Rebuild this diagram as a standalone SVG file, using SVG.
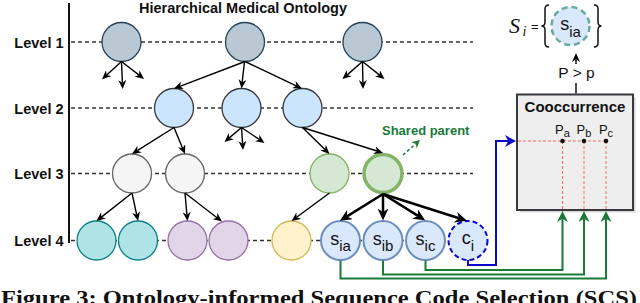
<svg xmlns="http://www.w3.org/2000/svg" width="640" height="303" viewBox="0 0 640 303">
<defs>
<style>
.lvl{font-family:"Liberation Sans",Arial,sans-serif;font-weight:bold;font-size:14.5px;fill:#111;text-anchor:end}
.grid{stroke:#333;stroke-width:1.3;stroke-dasharray:4 3;fill:none}
.n1{fill:#bac8d3;stroke:#23445d;stroke-width:1.3}
.n2{fill:#cce5ff;stroke:#36393d;stroke-width:1.3}
.n3{fill:#f5f5f5;stroke:#666;stroke-width:1.3}
.ng{fill:#d5e8d4;stroke:#82b366;stroke-width:1.3}
.nt{fill:#b0e3e6;stroke:#0e8088;stroke-width:1.3}
.np{fill:#e1d5e7;stroke:#9673a6;stroke-width:1.3}
.ny{fill:#fff2cc;stroke:#d6b656;stroke-width:1.3}
.ns{fill:#dae8fc;stroke:#6c8ebf;stroke-width:2}
.lab{font-family:"Liberation Sans",Arial,sans-serif;font-size:18px;fill:#111;text-anchor:middle}
.sub{font-size:15px}
.e{stroke:#000;stroke-width:1.4;fill:none;marker-end:url(#ah)}
.eb{stroke:#000;stroke-width:2.5;fill:none;marker-end:url(#ahB)}
.gr{stroke:#1a7a3a;stroke-width:2;fill:none;marker-end:url(#ahG)}
.sans{font-family:"Liberation Sans",Arial,sans-serif}
</style>
<marker id="ah" viewBox="0 0 10 10" refX="3" refY="5" markerWidth="9" markerHeight="8" markerUnits="userSpaceOnUse" orient="auto" preserveAspectRatio="none"><path d="M0,0 L10,5 L0,10 L3,5 z" fill="#000"/></marker>
<marker id="ahB" viewBox="0 0 10 10" refX="3" refY="5" markerWidth="12" markerHeight="11" markerUnits="userSpaceOnUse" orient="auto" preserveAspectRatio="none"><path d="M0,0 L10,5 L0,10 L3,5 z" fill="#000"/></marker>
<marker id="ahG" viewBox="0 0 10 10" refX="3" refY="5" markerWidth="11" markerHeight="11" markerUnits="userSpaceOnUse" orient="auto" preserveAspectRatio="none"><path d="M0,0 L10,5 L0,10 L3,5 z" fill="#1a7a3a"/></marker>
<marker id="ahGs" viewBox="0 0 10 10" refX="3" refY="5" markerWidth="8" markerHeight="8" markerUnits="userSpaceOnUse" orient="auto" preserveAspectRatio="none"><path d="M0,0 L10,5 L0,10 L3,5 z" fill="#1a7a3a"/></marker>
<marker id="ahBl" viewBox="0 0 10 10" refX="3" refY="5" markerWidth="11" markerHeight="12" markerUnits="userSpaceOnUse" orient="auto" preserveAspectRatio="none"><path d="M0,0 L10,5 L0,10 L3,5 z" fill="#0a0acc"/></marker>
</defs>
<rect width="640" height="303" fill="#fff"/>

<g id="axis">
<line x1="69" y1="3" x2="69" y2="243" stroke="#111" stroke-width="2"/>
<path class="grid" d="M71,42 H473 M71,108 H473 M71,173.5 H473 M71,240.5 H468"/>
<text class="lvl" x="63.5" y="47.5">Level 1</text>
<text class="lvl" x="63.5" y="113.5">Level 2</text>
<text class="lvl" x="63.5" y="179">Level 3</text>
<text class="lvl" x="63.5" y="246">Level 4</text>
<text class="sans" x="243" y="12.5" font-size="14.5" font-weight="bold" text-anchor="middle" fill="#111">Hierarchical Medical Ontology</text>
</g>

<g id="level1">
<g id="L1a"><circle class="n1" cx="121.5" cy="42" r="19.5"/></g>
<g id="L1b"><circle class="n1" cx="245" cy="42" r="19.5"/></g>
<g id="L1c"><circle class="n1" cx="362.5" cy="42" r="19.5"/></g>
</g>
<g id="level2">
<g id="L2a"><circle class="n2" cx="174" cy="108" r="19.5"/></g>
<g id="L2b"><circle class="n2" cx="241.5" cy="108" r="19.5"/></g>
<g id="L2c"><circle class="n2" cx="302.5" cy="108" r="19.5"/></g>
</g>
<g id="level3">
<g id="L3a"><circle class="n3" cx="132" cy="173.5" r="19.5"/></g>
<g id="L3b"><circle class="n3" cx="185" cy="173.5" r="19.5"/></g>
<g id="L3c"><circle class="ng" cx="329.5" cy="173.5" r="19.5"/></g>
<g id="L3d-shared-parent"><circle cx="383" cy="173.5" r="19" fill="#d5e8d4" stroke="#82b366" stroke-width="3.5"/></g>
</g>
<g id="level4">
<g id="L4a"><circle class="nt" cx="96.5" cy="240.5" r="19.5"/></g>
<g id="L4b"><circle class="nt" cx="138" cy="240.5" r="19.5"/></g>
<g id="L4c"><circle class="np" cx="187.5" cy="240.5" r="19.5"/></g>
<g id="L4d"><circle class="np" cx="228.5" cy="240.5" r="19.5"/></g>
<g id="L4e"><circle class="ny" cx="291.5" cy="240.5" r="19.5"/></g>
<g id="s_ia"><circle class="ns" cx="340.5" cy="240.5" r="19.5"/><text class="lab" x="340.5" y="244.5">s<tspan class="sub" dy="6.5">ia</tspan></text></g>
<g id="s_ib"><circle class="ns" cx="383" cy="240.5" r="19.5"/><text class="lab" x="383" y="244.5">s<tspan class="sub" dy="6.5">ib</tspan></text></g>
<g id="s_ic"><circle class="ns" cx="425.5" cy="240.5" r="19.5"/><text class="lab" x="425.5" y="244.5">s<tspan class="sub" dy="6.5">ic</tspan></text></g>
<g id="c_i"><circle cx="468" cy="240.5" r="19.5" fill="#dae8fc" stroke="#0a0acc" stroke-width="2" stroke-dasharray="5 3"/><text class="lab" x="468" y="244">c<tspan class="sub" dy="6.5">i</tspan></text></g>
</g>

<g id="shared-parent-label">
<text class="sans" x="382" y="135" font-size="13" font-weight="bold" fill="#1a7a3a">Shared parent</text>
</g>

<g id="cooccurrence">
<rect x="519.5" y="97" width="116" height="115.5" fill="#aaa" opacity="0.45"/>
<rect x="517" y="94.5" width="116" height="115.5" fill="#eeeeee" stroke="#36393d" stroke-width="2"/>
<text class="sans" x="575" y="112" font-size="15" font-weight="bold" text-anchor="middle" fill="#111">Cooccurrence</text>
<path d="M518,141 H606 M562.5,141 V209 M584,141 V209 M606,141 V209" stroke="#ff6666" stroke-width="1" stroke-dasharray="3 2" fill="none"/>
<circle cx="562.5" cy="141" r="2.3" fill="#111"/>
<circle cx="584" cy="141" r="2.3" fill="#111"/>
<circle cx="606" cy="141" r="2.3" fill="#111"/>
<text class="sans" x="562.5" y="134" font-size="13" text-anchor="middle" fill="#111">P<tspan font-size="11" dy="3">a</tspan></text>
<text class="sans" x="584" y="134" font-size="13" text-anchor="middle" fill="#111">P<tspan font-size="11" dy="3">b</tspan></text>
<text class="sans" x="606" y="134" font-size="13" text-anchor="middle" fill="#111">P<tspan font-size="11" dy="3">c</tspan></text>
</g>

<g id="selected-set">
<text x="509" y="33" font-family="Liberation Serif,serif" font-style="italic" font-size="22" fill="#111">S</text>
<text x="522.5" y="35.5" font-family="Liberation Serif,serif" font-style="italic" font-size="14" fill="#111">i</text>
<text class="sans" x="531" y="31" font-size="13" fill="#111">=</text>
<path d="M549,5 Q545,5 545,9 L545,22 Q545,26 541.5,26 Q545,26 545,30 L545,43 Q545,47 549,47" fill="none" stroke="#111" stroke-width="1.5"/>
<path d="M594,5 Q598,5 598,9 L598,22 Q598,26 601.5,26 Q598,26 598,30 L598,43 Q598,47 594,47" fill="none" stroke="#111" stroke-width="1.5"/>
<circle cx="570.5" cy="26" r="19" fill="#dae8fc" stroke="#67ab9f" stroke-width="2.5" stroke-dasharray="6 4"/>
<text class="lab" x="570.5" y="30">s<tspan class="sub" dy="6.5">ia</tspan></text>
</g>

<g id="connectors">
<path class="e" d="M245,61.5 L179.9,86.3"/>
<path class="e" d="M244.5,61.5 L242.2,82.2"/>
<path class="e" d="M245,61.5 L296.3,85.8"/>
<path class="e" d="M174,127.5 L137.3,150.6"/>
<path class="e" d="M174,127.5 L182.6,148.2"/>
<path class="e" d="M302.5,127.5 L325,149.6"/>
<path class="e" d="M302.5,127.5 L377,151"/>
<path class="e" d="M132,193 L101.4,217.1"/>
<path class="e" d="M132,193 L136.7,214.8"/>
<path class="e" d="M185,193 L186.9,214.7"/>
<path class="e" d="M185,193 L217,217.7"/>
<path class="e" d="M329.5,193 L296.6,217.3"/>
<path class="e" d="M121.5,61.5 L106.7,74.9"/>
<path class="e" d="M121.5,61.5 L122.4,82.7"/>
<path class="e" d="M121.5,61.5 L139.1,75.1"/>
<path class="e" d="M362.5,61.5 L347.2,74.9"/>
<path class="e" d="M362.5,61.5 L362.9,82.7"/>
<path class="e" d="M362.5,61.5 L379.6,75.1"/>
<path class="e" d="M241.5,127.5 L229.3,137.9"/>
<path class="e" d="M241.5,127.5 L242.6,143.7"/>
<path class="e" d="M241.5,127.5 L259.3,139.5"/>
<path class="eb" d="M383,194 L347,216.4"/>
<path class="eb" d="M383,194 L383,212.1"/>
<path class="eb" d="M383,194 L418,215.9"/>
<path class="eb" d="M383,194 L459,218.3"/>
<path d="M403,155 L415.8,143.7" stroke="#1a7a3a" stroke-width="1.5" stroke-dasharray="3 2.5" fill="none" marker-end="url(#ahGs)"/>
<path d="M468,260 V265 H496 V141 H508.3" stroke="#0a0acc" stroke-width="2" fill="none" marker-end="url(#ahBl)"/>
<path class="gr" d="M425.5,260.5 V270 H562.5 V218.7"/>
<path class="gr" d="M383,260.5 V274.5 H584 V218.7"/>
<path class="gr" d="M340.5,260.5 V278.5 H606 V218.7"/>
<path class="e" d="M576,93.5 V59.3"/>
<rect x="557" y="64" width="39" height="19" fill="#fff"/>
<text class="sans" x="576.5" y="78" font-size="15.5" text-anchor="middle" fill="#111">P &gt; p</text>
</g>

<text x="1" y="305" font-family="Liberation Serif,serif" font-weight="bold" font-size="21" fill="#111" textLength="636" lengthAdjust="spacingAndGlyphs">Figure 3: Ontology-informed Sequence Code Selection (SCS)</text>
</svg>
